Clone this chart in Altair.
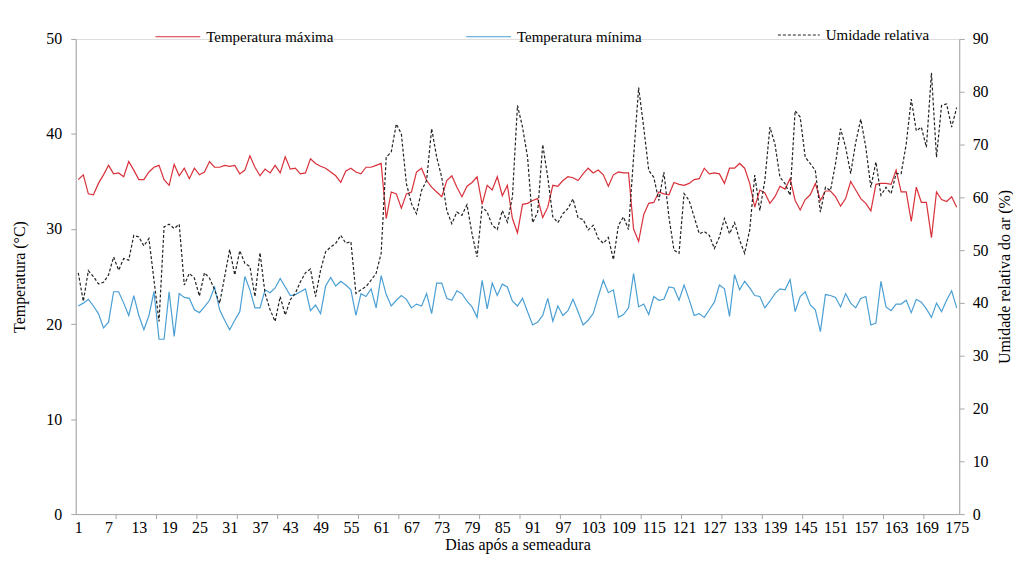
import altair as alt
import pandas as pd

# ---------------- data ----------------
tmax = [
    35.2, 35.7, 33.7, 33.6, 34.8, 35.7, 36.7, 35.8, 35.9, 35.5,
    37.1, 36.2, 35.2, 35.2, 36.0, 36.5, 36.7, 35.2, 34.6, 36.8,
    35.6, 36.4, 35.3, 36.4, 35.7, 36.0, 37.1, 36.5, 36.5, 36.7,
    36.6, 36.7, 35.8, 36.2, 37.7, 36.5, 35.6, 36.3, 35.9, 36.7,
    35.9, 37.6, 36.3, 36.4, 35.8, 35.9, 37.4, 36.9, 36.6, 36.4,
    36.0, 35.6, 34.9, 36.1, 36.4, 36.0, 35.8, 36.5, 36.5, 36.7,
    36.9, 31.1, 33.9, 33.7, 32.2, 33.7, 33.9, 36.0, 36.4, 35.1,
    34.4, 33.9, 33.4, 35.1, 35.6, 34.4, 33.4, 34.5, 34.9, 35.5,
    32.6, 34.6, 34.1, 35.5, 33.5, 34.6, 31.1, 29.6, 32.6, 32.7,
    33.0, 33.2, 31.2, 32.3, 34.6, 34.5, 35.1, 35.5, 35.4, 35.1,
    35.8, 36.4, 35.9, 36.2, 35.7, 34.5, 35.7, 36.0, 35.9, 35.9,
    30.0, 28.7, 31.5, 32.7, 32.8, 33.9, 33.7, 33.6, 34.9, 34.7,
    34.6, 34.8, 35.2, 35.3, 36.4, 35.8, 35.9, 35.8, 34.8, 36.4,
    36.4, 36.9, 36.4, 34.8, 32.3, 34.1, 33.8, 32.7, 33.4, 34.5,
    34.2, 35.3, 33.0, 32.0, 33.1, 33.6, 34.8, 33.0, 34.0, 34.0,
    33.4, 32.4, 33.2, 35.0, 34.1, 33.2, 32.7, 31.9, 34.7, 34.8,
    34.8, 34.7, 36.2, 33.9, 33.9, 30.8, 34.4, 32.8, 32.8, 29.1,
    33.9, 33.1, 32.9, 33.4, 32.3,
]

tmin = [
    21.9, 22.2, 22.6, 21.9, 21.1, 19.6, 20.2, 23.4, 23.4, 22.2,
    20.9, 23.0, 20.9, 19.4, 20.9, 23.4, 18.4, 18.4, 23.4, 18.7,
    23.2, 22.8, 22.7, 21.5, 21.2, 21.8, 22.5, 23.9, 21.5, 20.4,
    19.4, 20.4, 21.3, 25.0, 23.6, 21.7, 21.7, 23.6, 23.3, 23.8,
    24.8, 23.9, 23.0, 23.1, 23.4, 23.7, 21.4, 22.0, 21.1, 24.0,
    24.9, 24.0, 24.5, 24.1, 23.6, 20.9, 23.2, 22.9, 23.7, 21.7,
    25.1, 23.1, 21.9, 22.5, 23.0, 22.6, 21.7, 22.1, 21.9, 23.2,
    21.1, 24.3, 24.3, 22.7, 22.5, 23.5, 23.2, 22.4, 21.8, 20.7,
    24.6, 21.6, 24.3, 23.0, 24.2, 23.9, 22.4, 21.9, 22.7, 21.3,
    19.9, 20.2, 20.9, 22.7, 20.3, 21.9, 20.9, 21.4, 22.6, 21.3,
    19.9, 20.4, 21.1, 22.9, 24.6, 23.3, 23.6, 20.7, 21.0, 21.7,
    25.3, 21.8, 22.1, 21.0, 22.9, 22.5, 22.6, 23.9, 23.8, 22.5,
    24.1, 22.6, 20.9, 21.1, 20.7, 21.5, 22.3, 24.1, 23.7, 20.8,
    25.2, 23.6, 24.5, 23.8, 23.0, 22.9, 21.7, 22.4, 23.2, 23.7,
    23.6, 24.7, 21.3, 22.9, 23.4, 22.0, 21.5, 19.2, 23.1, 23.0,
    22.8, 21.8, 23.2, 22.2, 21.7, 22.7, 22.9, 19.9, 20.1, 24.5,
    21.8, 21.4, 22.1, 22.1, 22.5, 21.2, 22.6, 22.3, 21.6, 20.7,
    22.2, 21.3, 22.5, 23.5, 21.7,
]

umidade = [
    45.7, 40.3, 46.1, 45.0, 43.6, 43.9, 45.3, 48.7, 46.2, 48.4,
    48.1, 52.8, 52.5, 50.8, 52.2, 44.3, 36.5, 54.4, 54.9, 54.1,
    54.9, 43.4, 45.6, 44.7, 41.3, 45.7, 44.7, 42.5, 39.9, 45.0,
    50.1, 45.3, 49.9, 47.5, 46.9, 41.2, 49.5, 41.8, 38.7, 36.5,
    41.2, 37.7, 40.6, 41.8, 44.0, 45.7, 46.4, 41.2, 46.2, 49.7,
    50.6, 51.3, 52.8, 51.3, 51.6, 41.8, 42.5, 43.1, 44.3, 45.6,
    49.4, 67.6, 68.6, 73.9, 72.0, 62.6, 58.8, 56.9, 61.3, 63.2,
    73.0, 67.6, 63.8, 57.5, 55.0, 57.2, 56.6, 58.6, 53.1, 48.7,
    58.2, 57.2, 54.7, 53.9, 57.5, 55.3, 60.1, 77.4, 73.3, 67.6,
    55.2, 57.2, 70.0, 63.8, 56.3, 55.2, 56.9, 57.9, 59.7, 56.1,
    55.8, 53.8, 54.7, 52.2, 51.3, 52.4, 48.2, 54.7, 56.3, 53.9,
    67.6, 80.8, 73.3, 65.1, 63.8, 59.4, 64.8, 56.3, 50.0, 49.4,
    60.7, 59.4, 56.3, 53.1, 53.5, 52.8, 50.3, 52.5, 56.0, 53.1,
    55.2, 51.9, 49.4, 53.8, 64.2, 57.5, 63.2, 73.3, 70.1, 63.8,
    62.6, 60.4, 76.4, 75.2, 67.6, 66.4, 65.1, 57.2, 61.9, 61.3,
    66.4, 73.0, 69.5, 64.5, 70.4, 74.8, 69.5, 61.9, 66.7, 60.4,
    61.9, 60.7, 64.5, 64.5, 70.1, 78.6, 72.6, 73.3, 69.5, 83.6,
    67.6, 77.4, 77.7, 73.3, 77.0,
]

x_labels = [1, 7, 13, 19, 25, 31, 37, 43, 49, 55, 61, 67, 73, 79, 85, 91,
            97, 103, 109, 115, 121, 127, 133, 139, 145, 151, 157, 163, 169, 175]
x_ticks = [8.5, 16.5, 24.5, 32.5, 40.5, 48.5, 56.5, 64.5, 72.5, 80.5, 88.5,
           96.5, 104.5, 112.5, 120.5, 128.5, 136.5, 144.5, 152.5, 160.5, 168.5]
left_ticks = [0, 10, 20, 30, 40, 50]
right_ticks = [0, 10, 20, 30, 40, 50, 60, 70, 80, 90]

series_names = ["Temperatura máxima", "Temperatura mínima"]
hum_name = "Umidade relativa"

# ---------------- tables ----------------
dias = list(range(1, len(tmax) + 1))
temps = pd.DataFrame({
    "dia": dias + dias,
    "valor": tmax + tmin,
    "serie": [series_names[0]] * len(tmax) + [series_names[1]] * len(tmin),
})
hum = pd.DataFrame({"dia": dias, "ur": umidade, "serie": [hum_name] * len(umidade)})
ticks_df = pd.DataFrame({"pos": x_ticks})

FONT = "Liberation Serif"
AXIS_GRAY = "#a6a6a6"
W, H = 887, 477

xscale = alt.Scale(domain=[0.5, 175.5], nice=False, zero=False)


def x_axis():
    return alt.Axis(values=x_labels, title="Dias após a semeadura", ticks=False,
                    grid=False, labelFlush=False, labelOverlap=False,
                    labelFont=FONT, labelFontSize=16, labelColor="#000",
                    labelPadding=6, titleFont=FONT, titleFontSize=16,
                    titleFontWeight="normal", titleColor="#000", titlePadding=1,
                    domainColor=AXIS_GRAY)


temp_layer = alt.Chart(temps).mark_line(strokeWidth=1.2).encode(
    x=alt.X("dia:Q", scale=xscale, axis=x_axis()),
    y=alt.Y("valor:Q", scale=alt.Scale(domain=[0, 50], nice=False),
            axis=alt.Axis(values=left_ticks, title="Temperatura (°C)", orient="left",
                          grid=False, tickSize=5, tickColor=AXIS_GRAY,
                          domainColor=AXIS_GRAY, labelFont=FONT, labelFontSize=16,
                          labelColor="#000", labelPadding=9, titleFont=FONT,
                          titleFontSize=16, titleFontWeight="normal",
                          titleColor="#000", titlePadding=18)),
    color=alt.Color("serie:N",
                    scale=alt.Scale(domain=series_names, range=["#D9303A", "#4A9FD4"]),
                    legend=alt.Legend(title=None, orient="none", legendX=79, legendY=-26,
                                      direction="horizontal", symbolType="stroke",
                                      symbolSize=2025, symbolStrokeWidth=1.2,
                                      labelFont=FONT, labelFontSize=15, labelColor="#000",
                                      labelOffset=5, columnPadding=130)),
    order="dia:Q",
)

hum_layer = alt.Chart(hum).mark_line(strokeWidth=1.2, color="#222").encode(
    x=alt.X("dia:Q", scale=xscale, axis=x_axis()),
    y=alt.Y("ur:Q", scale=alt.Scale(domain=[0, 90], nice=False),
            axis=alt.Axis(values=right_ticks, title="Umidade relativa do ar (%)",
                          orient="right", grid=False, tickSize=5, tickColor=AXIS_GRAY,
                          domainColor=AXIS_GRAY, labelFont=FONT, labelFontSize=16,
                          labelColor="#000", labelPadding=8, titleFont=FONT,
                          titleFontSize=16, titleFontWeight="normal",
                          titleColor="#000", titleAngle=270, titlePadding=24)),
    strokeDash=alt.StrokeDash("serie:N",
                              scale=alt.Scale(domain=[hum_name], range=[[3, 2]]),
                              legend=alt.Legend(title=None, orient="none", legendX=704,
                                                legendY=-26, symbolType="stroke",
                                                symbolSize=1764, symbolStrokeColor="#222",
                                                symbolStrokeWidth=1.2, labelFont=FONT,
                                                labelFontSize=15, labelColor="#000",
                                                labelOffset=5)),
    order="dia:Q",
)

tick_layer = alt.Chart(ticks_df).mark_rule(color=AXIS_GRAY, strokeWidth=1).encode(
    x=alt.X("pos:Q", scale=xscale, axis=x_axis()),
    y=alt.value(H),
    y2=alt.value(H + 5),
)

chart = alt.layer(temp_layer, hum_layer, tick_layer).resolve_scale(
    y="independent"
).properties(
    width=W, height=H,
    padding={"left": 68, "top": 30, "right": 54, "bottom": 40},
    autosize=alt.AutoSizeParams(type="none"),
).configure_view(stroke=None).configure(background="white")

chart.save("out.html", embed_options={"renderer": "svg", "actions": False})
